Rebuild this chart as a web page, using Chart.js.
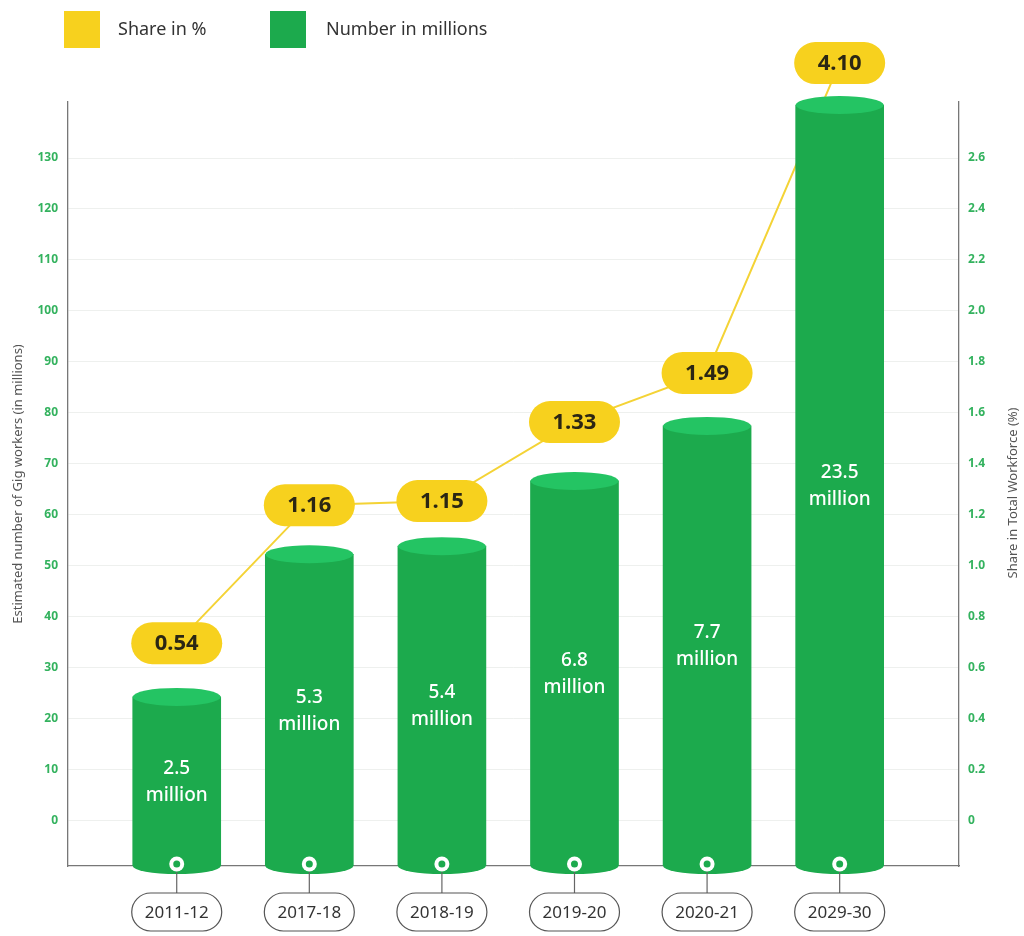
<!DOCTYPE html>
<html>
<head>
<meta charset="utf-8">
<script src="https://cdn.jsdelivr.net/npm/chart.js@4.4.0/dist/chart.umd.min.js"></script>
<style>
  html, body { margin: 0; padding: 0; background: #fff; }
  #wrap { width: 1024px; height: 936px; }
</style>
</head>
<body>
<div id="wrap"><canvas id="myChart" width="1024" height="936"></canvas></div>
<script>
// data
const periods = ['2011-12', '2017-18', '2018-19', '2019-20', '2020-21', '2029-30'];
const barHeights = [24.2, 52.2, 53.8, 66.6, 77.4, 140.4];      // drawn height, left axis
const barLabels = ['2.5', '5.3', '5.4', '6.8', '7.7', '23.5'];  // printed on the bars
const sharePoints = [0.695, 1.237, 1.253, 1.563, 1.756, 2.973]; // line, right axis
const shareLabels = ['0.54', '1.16', '1.15', '1.33', '1.49', '4.10'];
const leftTicks = [0, 10, 20, 30, 40, 50, 60, 70, 80, 90, 100, 110, 120, 130];
const rightTicks = [0, 0.2, 0.4, 0.6, 0.8, 1.0, 1.2, 1.4, 1.6, 1.8, 2.0, 2.2, 2.4, 2.6];

const green = '#1caa4d';
const greenTop = '#24c463';
const yellow = '#f7d11e';
const tickGreen = '#33b25e';
const font = '"Noto Sans", sans-serif';

function pill(ctx, cx, cy, w, h) {
  const r = h / 2;
  ctx.beginPath();
  ctx.moveTo(cx - w / 2 + r, cy - r);
  ctx.lineTo(cx + w / 2 - r, cy - r);
  ctx.arc(cx + w / 2 - r, cy, r, -Math.PI / 2, Math.PI / 2);
  ctx.lineTo(cx - w / 2 + r, cy + r);
  ctx.arc(cx - w / 2 + r, cy, r, Math.PI / 2, Math.PI * 1.5);
  ctx.closePath();
}

// cylinders, labels, pills and legend
const decor = {
  id: 'decor',
  afterDatasetsDraw(chart) {
    const ctx = chart.ctx;
    const bars = chart.getDatasetMeta(0).data;
    const pts = chart.getDatasetMeta(1).data;
    ctx.save();
    ctx.textAlign = 'center';
    ctx.textBaseline = 'middle';
    bars.forEach(function (b, i) {
      const w = b.width;
      ctx.fillStyle = green;
      ctx.beginPath();
      ctx.ellipse(b.x, b.base, w / 2, 8, 0, 0, Math.PI);
      ctx.fill();
      ctx.fillStyle = greenTop;
      ctx.beginPath();
      ctx.ellipse(b.x, b.y, w / 2, 9, 0, 0, Math.PI * 2);
      ctx.fill();

      const mid = (b.y + b.base) / 2;
      ctx.fillStyle = '#fff';
      ctx.font = '500 19px ' + font;
      ctx.fillText(barLabels[i], b.x, mid - 13);
      ctx.fillText('million', b.x, mid + 14);

      // marker + category pill
      ctx.strokeStyle = '#666';
      ctx.lineWidth = 1.2;
      ctx.beginPath();
      ctx.moveTo(b.x, b.base + 6);
      ctx.lineTo(b.x, 894);
      ctx.stroke();
      ctx.fillStyle = '#fff';
      ctx.beginPath();
      ctx.arc(b.x, b.base - 2, 7.5, 0, Math.PI * 2);
      ctx.fill();
      ctx.fillStyle = green;
      ctx.beginPath();
      ctx.arc(b.x, b.base - 2, 3.5, 0, Math.PI * 2);
      ctx.fill();

      pill(ctx, b.x, 912, 90, 38);
      ctx.fillStyle = '#fff';
      ctx.fill();
      ctx.strokeStyle = '#555';
      ctx.stroke();
      ctx.fillStyle = '#333';
      ctx.font = '17px ' + font;
      ctx.fillText(periods[i], b.x, 913);
    });

    pts.forEach(function (p, i) {
      pill(ctx, p.x, p.y, 91, 42);
      ctx.fillStyle = yellow;
      ctx.fill();
      ctx.fillStyle = '#2b2614';
      ctx.font = 'bold 22px ' + font;
      ctx.fillText(shareLabels[i], p.x, p.y + 1);
    });

    // right axis title, reading upwards
    ctx.save();
    ctx.translate(1013, 493);
    ctx.rotate(-Math.PI / 2);
    ctx.fillStyle = '#555';
    ctx.font = '13px ' + font;
    ctx.fillText('Share in Total Workforce (%)', 0, 0);
    ctx.restore();

    // legend
    ctx.textAlign = 'left';
    ctx.fillStyle = yellow;
    ctx.fillRect(64, 11, 36, 37);
    ctx.fillStyle = green;
    ctx.fillRect(270, 11, 36, 37);
    ctx.fillStyle = '#333';
    ctx.font = '18px ' + font;
    ctx.fillText('Share in %', 118, 30);
    ctx.fillText('Number in millions', 326, 30);
    ctx.restore();
  }
};

const ctx = document.getElementById('myChart').getContext('2d');
const chart = new Chart(ctx, {
  type: 'bar',
  data: {
    datasets: [
      {
        label: 'Number in millions',
        data: barHeights.map((v, i) => ({ x: i, y: v })),
        backgroundColor: green,
        borderWidth: 0,
        barThickness: 88,
        base: -9,
        yAxisID: 'y',
        order: 0
      },
      {
        type: 'line',
        label: 'Share in %',
        data: sharePoints.map((v, i) => ({ x: i, y: v })),
        borderColor: '#f4d336',
        borderWidth: 2,
        pointRadius: 0,
        tension: 0,
        clip: false,
        yAxisID: 'y2',
        order: 1
      }
    ]
  },
  options: {
    responsive: false,
    devicePixelRatio: 1,
    animation: false,
    layout: { padding: { top: 102, left: 0, right: 0, bottom: 0 } },
    plugins: { legend: { display: false }, tooltip: { enabled: false } },
    scales: {
      x: {
        type: 'linear',
        offset: false,
        min: -0.82,
        max: 5.9,
        ticks: { display: false },
        grid: { display: false },
        border: { color: '#777', width: 1.3 },
        afterFit: function (s) { s.height = 70; }
      },
      y: {
        position: 'left',
        min: -9,
        max: 141,
        afterBuildTicks: function (s) { s.ticks = leftTicks.map(v => ({ value: v })); },
        ticks: { color: tickGreen, font: { family: font, size: 12, weight: 'bold' }, padding: 10 },
        grid: { color: '#eef0ee', drawTicks: false },
        border: { color: '#777', width: 1.3 },
        title: {
          display: true,
          text: 'Estimated number of Gig workers (in millions)',
          color: '#555',
          font: { family: font, size: 13 },
          padding: { top: 10, bottom: 0 }
        },
        afterFit: function (s) { s.width = 68; }
      },
      y2: {
        position: 'right',
        min: -0.18,
        max: 2.82,
        afterBuildTicks: function (s) { s.ticks = rightTicks.map(v => ({ value: v })); },
        ticks: {
          color: tickGreen,
          font: { family: font, size: 12, weight: 'bold' },
          padding: 9,
          callback: function (v) { return v === 0 ? '0' : v.toFixed(1); }
        },
        grid: { display: false, drawTicks: false },
        border: { color: '#777', width: 1.3 },
        afterFit: function (s) { s.width = 65; }
      }
    }
  },
  plugins: [decor]
});
</script>
</body>
</html>
